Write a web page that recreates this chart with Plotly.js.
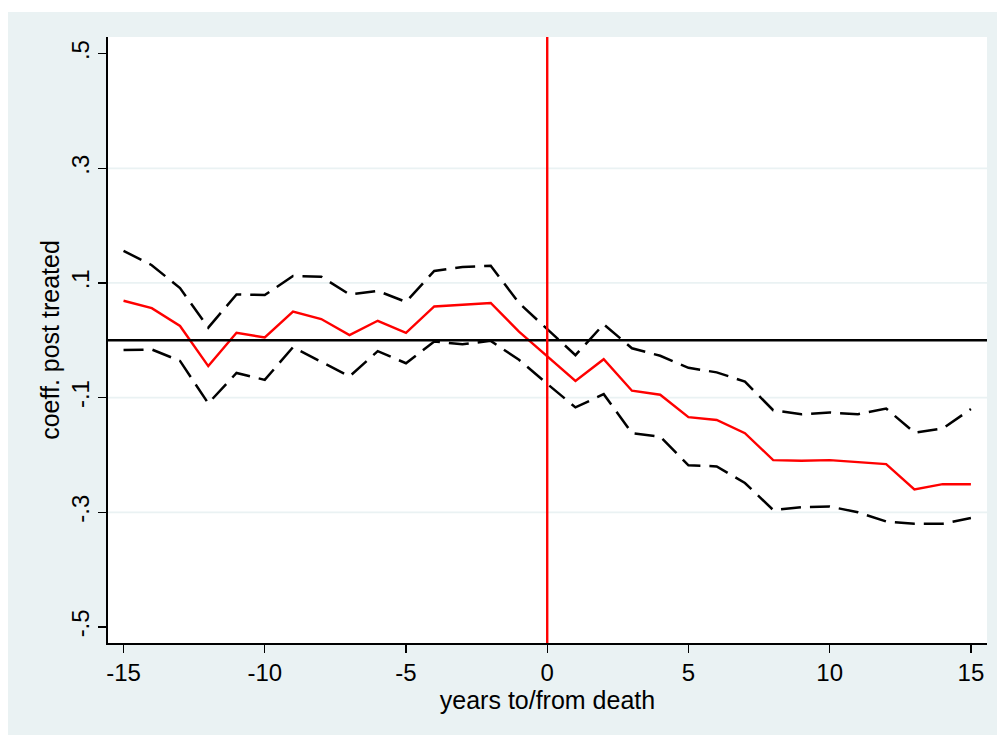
<!DOCTYPE html>
<html>
<head>
<meta charset="utf-8">
<script src="https://cdn.plot.ly/plotly-3.0.1.min.js"></script>
<style>
  html, body { margin: 0; padding: 0; background: #ffffff; }
  #chart { width: 997px; height: 735px; }
</style>
</head>
<body>
<div id="chart"></div>
<script>
// Event-study coefficients around the year of death, with 95% bounds
const years = [-15, -14, -13, -12, -11, -10, -9, -8, -7, -6, -5, -4, -3, -2, -1,
               0, 1, 2, 3, 4, 5, 6, 7, 8, 9, 10, 11, 12, 13, 14, 15];

const coef = [0.069, 0.056, 0.025, -0.045, 0.013, 0.005, 0.050, 0.037, 0.009, 0.034, 0.013,
              0.059, 0.062, 0.065, 0.015, -0.028, -0.071, -0.033, -0.088, -0.095, -0.134,
              -0.139, -0.162, -0.209, -0.210, -0.209, -0.213, -0.216, -0.260, -0.251, -0.251];

const upper = [0.156, 0.131, 0.091, 0.022, 0.080, 0.079, 0.112, 0.111, 0.080, 0.086, 0.067,
               0.121, 0.128, 0.130, 0.065, 0.020, -0.026, 0.028, -0.014, -0.027, -0.048,
               -0.056, -0.072, -0.122, -0.129, -0.126, -0.129, -0.119, -0.161, -0.154, -0.120];

const lower = [-0.017, -0.016, -0.036, -0.110, -0.057, -0.069, -0.012, -0.037, -0.063, -0.019, -0.040,
               -0.002, -0.007, -0.001, -0.034, -0.076, -0.117, -0.094, -0.162, -0.168, -0.218,
               -0.220, -0.249, -0.296, -0.291, -0.290, -0.300, -0.316, -0.320, -0.320, -0.310];

const yTickVals = [-0.5, -0.3, -0.1, 0.1, 0.3, 0.5];
const yTickText = ['-.5', '-.3', '-.1', '.1', '.3', '.5'];
const yGridVals = [-0.3, -0.1, 0.1, 0.3];
const xTickVals = [-15, -10, -5, 0, 5, 10, 15];
const xTickText = ['-15', '-10', '-5', '0', '5', '10', '15'];
const refY = 0;   // horizontal reference line
const refX = 0;   // year of death

const bgBlue = '#EAF2F3';
const fontFam = '"Liberation Sans", Arial, Helvetica, sans-serif';

const dashed = { color: '#000000', width: 2.5, dash: '20px,9px' };

const traces = [
  { x: years, y: lower, type: 'scatter', mode: 'lines', line: dashed, hoverinfo: 'skip' },
  { x: years, y: upper, type: 'scatter', mode: 'lines', line: dashed, hoverinfo: 'skip' },
  { x: years, y: coef, type: 'scatter', mode: 'lines',
    line: { color: '#FF0000', width: 2.4 }, hoverinfo: 'skip' }
];

const shapes = [
  // outer graph region
  { type: 'rect', xref: 'paper', yref: 'paper', x0: -0.1138, x1: 1.0114, y0: -0.1518, y1: 1.0413,
    fillcolor: bgBlue, line: { width: 0 }, layer: 'below' },
  // plot region
  { type: 'rect', xref: 'paper', yref: 'paper', x0: 0, x1: 1, y0: 0, y1: 1,
    fillcolor: '#ffffff', line: { width: 0 }, layer: 'below' }
];
yGridVals.forEach(v => shapes.push({
  type: 'line', xref: 'paper', yref: 'y', x0: 0, x1: 1, y0: v, y1: v,
  line: { color: bgBlue, width: 1.8 }, layer: 'below'
}));
shapes.push({ type: 'line', xref: 'paper', yref: 'y', x0: 0, x1: 1, y0: refY, y1: refY,
  line: { color: '#000000', width: 2.5 }, layer: 'above' });
shapes.push({ type: 'line', xref: 'x', yref: 'paper', x0: refX, x1: refX, y0: 0, y1: 1,
  line: { color: '#FF0000', width: 2.4 }, layer: 'above' });

const layout = {
  width: 997, height: 735,
  margin: { l: 108, r: 10, t: 37, b: 92 },
  paper_bgcolor: '#ffffff',
  plot_bgcolor: '#ffffff',
  showlegend: false,
  shapes: shapes,
  font: { family: fontFam, color: '#000000', size: 24 },
  xaxis: {
    range: [-15.55, 15.57],
    tickmode: 'array', tickvals: xTickVals, ticktext: xTickText,
    ticks: 'outside', ticklen: 8, tickwidth: 1.3, tickcolor: '#000000',
    showline: true, linecolor: '#000000', linewidth: 1.6,
    showgrid: false, zeroline: false,
    tickfont: { size: 24 },
    title: { text: 'years to/from death', font: { size: 25 }, standoff: 4 }
  },
  yaxis: {
    range: [-0.528, 0.529],
    tickmode: 'array', tickvals: yTickVals, ticktext: yTickText,
    tickangle: -90,
    ticks: 'outside', ticklen: 8, tickwidth: 1.3, tickcolor: '#000000',
    showline: true, linecolor: '#000000', linewidth: 1.6,
    showgrid: false, zeroline: false,
    tickfont: { size: 24 },
    title: { text: 'coeff. post treated', font: { size: 25 }, standoff: 0 }
  }
};

Plotly.newPlot('chart', traces, layout, { staticPlot: true, displayModeBar: false });
</script>
</body>
</html>
